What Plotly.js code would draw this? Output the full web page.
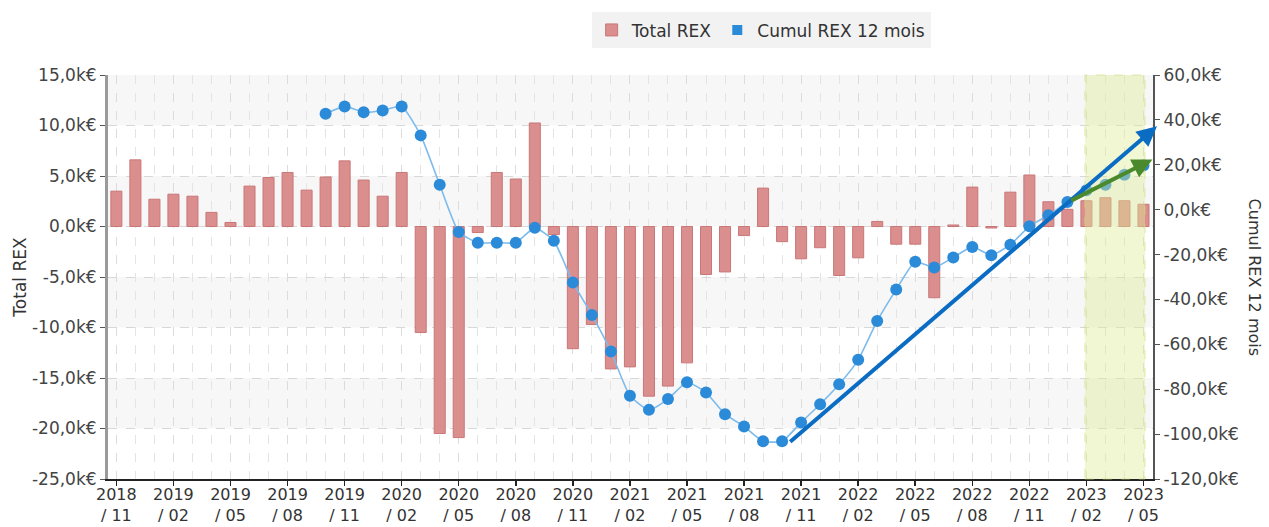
<!DOCTYPE html>
<html>
<head>
<meta charset="utf-8">
<script src="https://cdn.plot.ly/plotly-3.0.1.min.js"></script>
<style>
  html, body { margin: 0; padding: 0; background: #ffffff; }
  #chart { width: 1269px; height: 527px; }
</style>
</head>
<body>
<div id="chart"></div>
<script>
// ---- Data (k€) ----
var months = [
  "2018/11","2018/12",
  "2019/01","2019/02","2019/03","2019/04","2019/05","2019/06","2019/07","2019/08","2019/09","2019/10","2019/11","2019/12",
  "2020/01","2020/02","2020/03","2020/04","2020/05","2020/06","2020/07","2020/08","2020/09","2020/10","2020/11","2020/12",
  "2021/01","2021/02","2021/03","2021/04","2021/05","2021/06","2021/07","2021/08","2021/09","2021/10","2021/11","2021/12",
  "2022/01","2022/02","2022/03","2022/04","2022/05","2022/06","2022/07","2022/08","2022/09","2022/10","2022/11","2022/12",
  "2023/01","2023/02","2023/03","2023/04","2023/05"
];

var totalRex = [
  3.5, 6.6,
  2.7, 3.2, 3.0, 1.4, 0.4, 4.0, 4.85, 5.35, 3.6, 4.9, 6.5, 4.6,
  3.0, 5.35, -10.5, -20.5, -20.9, -0.6, 5.35, 4.7, 10.25, -0.8, -12.1, -9.7,
  -14.1, -13.9, -16.8, -15.8, -13.5, -4.75, -4.5, -0.9, 3.8, -1.5, -3.2, -2.1,
  -4.85, -3.1, 0.5, -1.75, -1.75, -7.05, 0.15, 3.9, -0.15, 3.4, 5.1, 2.45,
  1.7, 2.55, 2.85, 2.55, 2.2
];

var cumulRex12 = [
  null, null,
  null, null, null, null, null, null, null, null, null, 42.7, 46.0, 43.4,
  44.2, 46.0, 33.1, 11.1, -9.9, -14.7, -14.7, -14.7, -8.1, -13.9, -32.4, -46.9,
  -63.2, -82.9, -89.2, -84.4, -76.9, -81.5, -91.1, -96.6, -103.2, -103.2, -94.8, -86.7,
  -77.8, -66.9, -49.6, -35.6, -23.2, -25.8, -21.3, -16.6, -20.3, -15.6, -7.4, -2.5,
  3.4, 8.6, 11.1, 15.6, 19.7
];

var leftTicks = [15, 10, 5, 0, -5, -10, -15, -20, -25];
var leftTickText = ["15,0k€","10,0k€","5,0k€","0,0k€","-5,0k€","-10,0k€","-15,0k€","-20,0k€","-25,0k€"];
var rightTicks = [60, 40, 20, 0, -20, -40, -60, -80, -100, -120];
var rightTickText = ["60,0k€","40,0k€","20,0k€","0,0k€","-20,0k€","-40,0k€","-60,0k€","-80,0k€","-100,0k€","-120,0k€"];

// highlighted (forecast) period
var highlightStart = "2023/02";
var highlightEnd = "2023/05";

// trend arrows: [monthIndex, value on right axis]
var blueTrend = {from: [35.35, -104], to: [54.71, 37.2]};
var greenTrend = {from: [50.12, 3.7], to: [54.47, 22.4]};

// ---- Build ----
var xIdx = months.map(function (m, i) { return i; });
var tickIdx = xIdx.filter(function (i) { return i % 3 === 0; });
var tickLbl = tickIdx.map(function (i) {
  var p = months[i].split("/");
  return p[0] + "<br>/ " + p[1];
});

var FONT = "DejaVu Sans, Verdana, sans-serif";
var BAR_COLOR = "#db8e8e";
var LINE_COLOR = "#7cbbec";
var MARKER_COLOR = "#2b8bd8";

var traces = [
  {
    type: "bar",
    name: "Total REX",
    x: xIdx,
    y: totalRex,
    width: 0.58,
    marker: { color: BAR_COLOR, line: { color: "#c97777", width: 1 } }
  },
  {
    type: "scatter",
    mode: "lines+markers",
    name: "Cumul REX 12 mois",
    x: xIdx,
    y: cumulRex12,
    yaxis: "y2",
    showlegend: false,
    connectgaps: false,
    line: { color: LINE_COLOR, width: 1.6, shape: "spline", smoothing: 0.5 },
    marker: { color: MARKER_COLOR, size: 12 }
  },
  {
    // legend swatch only (square symbol like the reference)
    type: "scatter",
    mode: "markers",
    name: "Cumul REX 12 mois",
    x: [null],
    y: [null],
    yaxis: "y2",
    marker: { color: MARKER_COLOR, symbol: "square", size: 10 }
  }
];

// alternating background bands on the left axis
var shapes = [];
for (var k = 0; k < leftTicks.length - 1; k += 2) {
  shapes.push({
    type: "rect", layer: "below",
    xref: "paper", x0: 0, x1: 1,
    yref: "y", y0: leftTicks[k + 1], y1: leftTicks[k],
    fillcolor: "#f7f7f7", line: { width: 0 }
  });
}
var hs = months.indexOf(highlightStart), he = months.indexOf(highlightEnd);
shapes.push({
  type: "rect", layer: "above",
  xref: "x", x0: hs - 0.08, x1: he + 0.08,
  yref: "paper", y0: 0, y1: 1,
  fillcolor: "rgba(222,236,150,0.42)",
  line: { color: "rgba(200,222,120,0.6)", width: 1, dash: "dash" }
});

function arrow(tr, color) {
  return {
    xref: "x", yref: "y2", axref: "x", ayref: "y2",
    x: tr.to[0], y: tr.to[1], ax: tr.from[0], ay: tr.from[1],
    text: "", showarrow: true,
    arrowhead: 2, arrowsize: 1, arrowwidth: 4, arrowcolor: color, standoff: 0
  };
}

var layout = {
  width: 1269,
  height: 527,
  margin: { l: 108, r: 116, t: 73, b: 48, pad: 0 },
  paper_bgcolor: "#ffffff",
  plot_bgcolor: "#ffffff",
  font: { family: FONT, size: 17, color: "#444" },
  barmode: "overlay",
  showlegend: true,
  legend: {
    orientation: "h",
    x: 0.625, xanchor: "center",
    y: 1.155, yanchor: "top",
    bgcolor: "#f2f2f2",
    font: { family: FONT, size: 17, color: "#333" },
    itemwidth: 30,
    tracegroupgap: 0,
    traceorder: "normal"
  },
  xaxis: {
    range: [-0.44, 54.5],
    tickmode: "array",
    tickvals: tickIdx,
    ticktext: tickLbl,
    tickfont: { family: FONT, size: 16, color: "#333" },
    ticks: "outside", ticklen: 5, tickcolor: "#222", tickwidth: 1.5,
    ticklabelstandoff: -5,
    showline: true, linecolor: "#222", linewidth: 2,
    showgrid: true, gridcolor: "#dcdcdc", griddash: "dash", gridwidth: 1,
    minor: { tickmode: "linear", tick0: 0, dtick: 1, showgrid: true, gridcolor: "#e4e4e4", griddash: "dash", gridwidth: 1 },
    zeroline: false,
    automargin: false,
    fixedrange: true
  },
  yaxis: {
    range: [-25, 15],
    tickmode: "array",
    tickvals: leftTicks,
    ticktext: leftTickText,
    tickfont: { family: FONT, size: 17, color: "#444" },
    ticks: "outside", ticklen: 5, tickcolor: "#555",
    showline: true, linecolor: "#9a9a9a", linewidth: 3,
    showgrid: true, gridcolor: "#d8d8d8", griddash: "dash", gridwidth: 1,
    zeroline: false,
    title: { text: "Total REX", font: { family: FONT, size: 17, color: "#333" }, standoff: 1 },
    automargin: false
  },
  yaxis2: {
    overlaying: "y",
    side: "right",
    range: [-120, 60],
    tickmode: "array",
    tickvals: rightTicks,
    ticktext: rightTickText,
    tickfont: { family: FONT, size: 17, color: "#444" },
    ticks: "outside", ticklen: 5, tickcolor: "#555",
    showline: true, linecolor: "#555", linewidth: 2,
    showgrid: false,
    zeroline: false,
    automargin: false
  },
  shapes: shapes,
  annotations: [
    {
      xref: "paper", yref: "paper",
      x: 1.098, y: 0.5, xanchor: "center", yanchor: "middle",
      text: "Cumul REX 12 mois", textangle: 90, showarrow: false,
      font: { family: FONT, size: 16, color: "#333" }
    },
    arrow(blueTrend, "#0b6cc3"),
    arrow(greenTrend, "#4b8a2c")
  ]
};

Plotly.newPlot("chart", traces, layout, { displayModeBar: false, staticPlot: true });
</script>
</body>
</html>
